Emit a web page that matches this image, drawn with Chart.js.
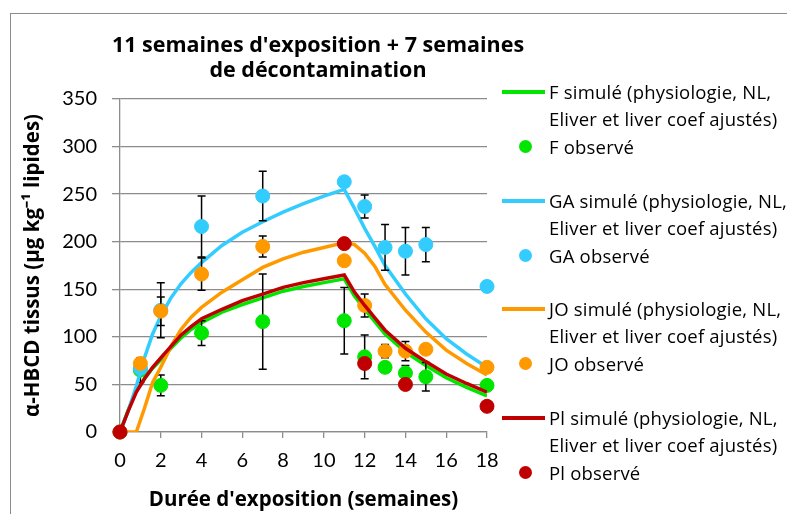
<!DOCTYPE html>
<html>
<head>
<meta charset="utf-8">
<script src="https://cdn.jsdelivr.net/npm/chart.js@4.4.0/dist/chart.umd.min.js"></script>
<style>
  body { margin: 0; background: #fff; font-family: Lato, sans-serif; }
  #wrap { position: relative; width: 787px; height: 514px; overflow: hidden; }
  #frame { position: absolute; left: 10px; top: 13px; width: 900px; height: 600px;
           border-left: 1px solid #8c8c8c; border-top: 1px solid #8c8c8c; }
  #chartBox { position: absolute; left: 0; top: 0; }
  #title { position: absolute; left: 0; top: 31px; width: 636px; text-align: center;
           font-family: 'Open Sans', sans-serif; font-weight: bold; font-size: 21.5px; line-height: 25px; color: #000; }
  #legend { position: absolute; left: 502px; top: 0; font-family: 'Open Sans', sans-serif; font-size: 18.5px;
            letter-spacing: 0.2px; color: #000; }
  .item { position: absolute; left: 0; white-space: nowrap; }
  .swatch { position: absolute; left: 0; width: 43px; height: 4px; }
  .dot { position: absolute; left: 17px; width: 13px; height: 13px; border-radius: 50%; }
  .txt { position: absolute; left: 47px; line-height: 27px; }
</style>
</head>
<body>
<div id="wrap">
  <div id="frame"></div>
  <div id="chartBox"><canvas id="myChart" width="640" height="514"></canvas></div>
  <div id="title"></div>
  <div id="legend"></div>
</div>
<script>
const titleLines = ["11 semaines d'exposition + 7 semaines", 'de décontamination'];

// semaines des mesures observées
const weeks = [0, 1, 2, 4, 7, 11, 12, 13, 14, 15, 18];
const fObs  = [0, 65, 49, 104, 116, 117, 79, 68, 62, 58, 49];
const fErr  = [0, 13, 11, 13, 50, 35, 23, 0, 8, 15, 0];
const gaObs = [0, 67, 128, 216, 248, 263, 237, 194, 190, 197, 153];
const gaErr = [0, 0, 29, 32, 26, 0, 12, 24, 25, 18, 0];
const joObs = [0, 72, 127, 166, 195, 180, 133, 85, 85, 87, 68];
const joErr = [0, 0, 15, 17, 11, 0, 12, 7, 10, 0, 0];
const plWeeks = [0, 11, 12, 14, 18];
const plObs   = [0, 198, 72, 50, 27];

// courbes simulées
const simWeeks = [0, 0.4, 0.8, 1.2, 1.6, 2, 2.5, 3, 3.5, 4, 5, 6, 7, 8, 9, 10, 11, 11.5, 12, 12.5, 13, 14, 15, 16, 17, 18];
const fSim  = [0, 23, 43, 56, 67, 76, 88, 99, 108, 115, 126, 134, 141, 148, 153, 157, 161, 143, 129, 116, 103, 84, 70, 57, 47, 38];
const gaSim = [0, 22, 48, 78, 103, 122, 141, 156, 168, 178, 196, 210, 221, 231, 240, 248, 255, 235, 214, 195, 175, 145, 119, 98, 82, 68];
const joSim = [0, 0, 0, 25, 52, 68, 90, 108, 121, 131, 147, 160, 173, 182, 189, 194, 199, 197, 188, 174, 155, 128, 105, 86, 72, 60];
const plSim = [0, 22, 42, 56, 68, 78, 90, 102, 111, 119, 129, 138, 145, 152, 157, 161, 165, 147, 133, 120, 107, 88, 74, 61, 51, 42];

const xTicks = [0, 2, 4, 6, 8, 10, 12, 14, 16, 18];
const yTicks = [0, 50, 100, 150, 200, 250, 300, 350];

const GREEN = '#00e600', BLUE = '#33ccff', ORANGE = '#ff9900', RED = '#c00000';

function pts(xs, ys) {
    return xs.map((x, i) => ({ x: x, y: ys[i] }));
}

function simSet(label, ys, color) {
    return { type: 'line', label: label, data: pts(simWeeks, ys), borderColor: color,
             backgroundColor: color, borderWidth: 3.5, pointRadius: 0, tension: 0, fill: false };
}

function obsSet(label, xs, ys, errs, color) {
    return { type: 'scatter', label: label, data: pts(xs, ys), errors: errs, clip: false,
             backgroundColor: color, borderColor: color, pointRadius: 7, pointHoverRadius: 7 };
}

const datasets = [
    simSet('F simulé (physiologie, NL,|Eliver et liver coef ajustés)', fSim, GREEN),
    obsSet('F observé', weeks, fObs, fErr, GREEN),
    simSet('GA simulé (physiologie, NL,|Eliver et liver coef ajustés)', gaSim, BLUE),
    obsSet('GA observé', weeks, gaObs, gaErr, BLUE),
    simSet('JO simulé (physiologie, NL,|Eliver et liver coef ajustés)', joSim, ORANGE),
    obsSet('JO observé', weeks, joObs, joErr, ORANGE),
    simSet('Pl simulé (physiologie, NL,|Eliver et liver coef ajustés)', plSim, RED),
    obsSet('Pl observé', plWeeks, plObs, null, RED)
];
// les dernières séries sont dessinées par-dessus
datasets.forEach((ds, i) => { ds.order = datasets.length - i; });

// barres d'erreur dessinées juste avant leur série
const errorBars = {
    id: 'errorBars',
    beforeDatasetDraw(chart, args) {
        const ds = chart.data.datasets[args.index];
        if (!ds.errors) return;
        const ctx = chart.ctx, x = chart.scales.x, y = chart.scales.y;
        ctx.save();
        ctx.strokeStyle = '#000';
        ctx.lineWidth = 1.5;
        ds.data.forEach((p, i) => {
            const e = ds.errors[i];
            if (!e) return;
            const px = x.getPixelForValue(p.x);
            const top = y.getPixelForValue(p.y + e);
            const bot = y.getPixelForValue(p.y - e);
            ctx.beginPath();
            ctx.moveTo(px, top); ctx.lineTo(px, bot);
            ctx.moveTo(px - 4, top); ctx.lineTo(px + 4, top);
            ctx.moveTo(px - 4, bot); ctx.lineTo(px + 4, bot);
            ctx.stroke();
        });
        ctx.restore();
    }
};

new Chart(document.getElementById('myChart'), {
    data: { datasets: datasets },
    plugins: [errorBars],
    options: {
        responsive: false,
        animation: false,
        devicePixelRatio: 1,
        layout: { padding: { left: 0, right: 153, top: 99, bottom: 0 } },
        plugins: {
            legend: { display: false },
            tooltip: { enabled: false }
        },
        scales: {
            x: {
                type: 'linear', min: 0, max: 18,
                afterBuildTicks: (s) => { s.ticks = xTicks.map(v => ({ value: v })); },
                afterFit: (s) => { s.height = 82; },
                ticks: { color: '#000', padding: 11, font: { family: 'Lato', size: 20 } },
                grid: { drawOnChartArea: false, drawTicks: true, tickLength: 6, color: '#8c8c8c', lineWidth: 1.3 },
                border: { display: true, color: '#8c8c8c', width: 1.3 },
                title: {
                    display: true, text: "Durée d'exposition (semaines)", color: '#000',
                    font: { family: 'Open Sans', size: 20.5, weight: 'bold' },
                    padding: { top: 0, bottom: 2 }
                }
            },
            y: {
                type: 'linear', min: 0, max: 350,
                afterBuildTicks: (s) => { s.ticks = yTicks.map(v => ({ value: v })); },
                afterFit: (s) => { s.width = 120; },
                ticks: { color: '#000', padding: 15, font: { family: 'Lato', size: 20 } },
                grid: { color: '#8c8c8c', lineWidth: 1.3, tickLength: 8 },
                border: { display: true, color: '#8c8c8c', width: 1.3 },
                title: {
                    display: true, text: 'α-HBCD tissus (µg kg⁻¹ lipides)', color: '#000',
                    font: { family: 'Open Sans', size: 20.5, weight: 'bold' },
                    padding: { top: 21, bottom: 0 }
                }
            }
        }
    }
});

document.getElementById('title').innerHTML = titleLines.join('<br>');

// légende à droite, construite depuis les séries
const legend = document.getElementById('legend');
const groupTop = 78, groupStep = 108.7;
datasets.forEach((ds, i) => {
    const g = Math.floor(i / 2);
    const item = document.createElement('div');
    item.className = 'item';
    const isLine = ds.type === 'line';
    const top = groupTop + g * groupStep + (isLine ? 0 : 55);
    item.style.top = top + 'px';
    const mark = document.createElement('div');
    mark.className = isLine ? 'swatch' : 'dot';
    mark.style.background = ds.borderColor;
    mark.style.top = isLine ? '12px' : '7px';
    item.appendChild(mark);
    const txt = document.createElement('div');
    txt.className = 'txt';
    txt.innerHTML = ds.label.split('|').join('<br>');
    item.appendChild(txt);
    legend.appendChild(item);
});
</script>
</body>
</html>
